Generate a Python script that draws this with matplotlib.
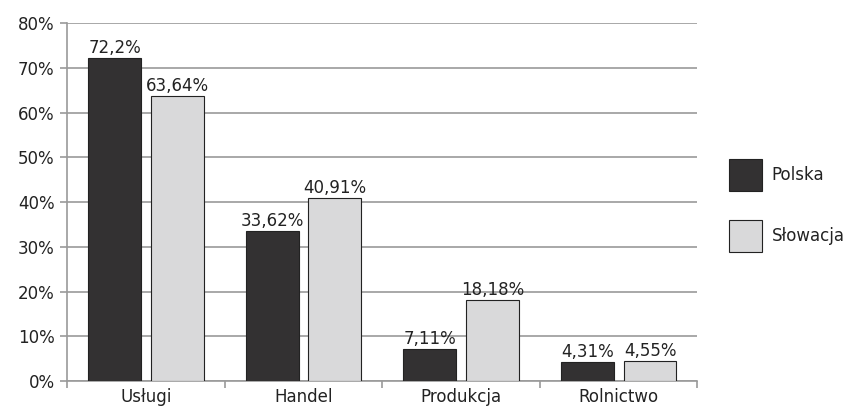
import numpy as np
import matplotlib.pyplot as plt

categories = ['Usługi', 'Handel', 'Produkcja', 'Rolnictwo']
polska = [72.2, 33.62, 7.11, 4.31]
slowacja = [63.64, 40.91, 18.18, 4.55]
polska_labels = ['72,2%', '33,62%', '7,11%', '4,31%']
slowacja_labels = ['63,64%', '40,91%', '18,18%', '4,55%']

plt.rcParams['font.family'] = ['DejaVu Sans']
plt.rcParams['font.size'] = 12
plt.rcParams['text.color'] = '#222222'

fig = plt.figure(figsize=(8.54, 4.11), dpi=100)
ax = fig.add_axes([0.0785, 0.073, 0.738, 0.871])

x = np.arange(len(categories))
w = 0.336
b1 = ax.bar(x - 0.198, polska, w, color='#333132', edgecolor='#222222', linewidth=0.8,
            label='Polska', zorder=3)
b2 = ax.bar(x + 0.2, slowacja, w, color='#d9d9da', edgecolor='#222222', linewidth=0.8,
            label='Słowacja', zorder=3)

# value labels above bars
for bars, labels in ((b1, polska_labels), (b2, slowacja_labels)):
    for rect, lab in zip(bars, labels):
        ax.text(rect.get_x() + rect.get_width() / 2, rect.get_height() + 0.2, lab,
                ha='center', va='bottom', zorder=4)

ax.set_xlim(-0.5, len(categories) - 0.5)
ax.set_ylim(0, 80)
ax.set_yticks(range(0, 81, 10))
ax.set_yticklabels([f'{v}%' for v in range(0, 81, 10)])
ax.yaxis.grid(True, color='#9a9a9a', linewidth=1.2, zorder=0)

ax.set_xticks(x)
ax.set_xticklabels(categories)
ax.set_xticks(np.arange(-0.5, len(categories)), minor=True)
ax.tick_params(axis='x', which='major', length=0, pad=5, labelcolor='#222222')
ax.tick_params(axis='x', which='minor', length=5, color='#9a9a9a', width=1.2)
ax.tick_params(axis='y', length=5, color='#9a9a9a', width=1.2, pad=4, labelcolor='#222222')

for s in ('top', 'right'):
    ax.spines[s].set_visible(False)
for s in ('left', 'bottom'):
    ax.spines[s].set_color('#9a9a9a')
    ax.spines[s].set_linewidth(1.2)

ax.legend(loc='center left', bbox_to_anchor=(1.037, 0.49), frameon=False, borderpad=0,
          handlelength=2.0, handleheight=2.6, labelspacing=1.7, handletextpad=0.55)

plt.savefig('out.png', dpi=100)
